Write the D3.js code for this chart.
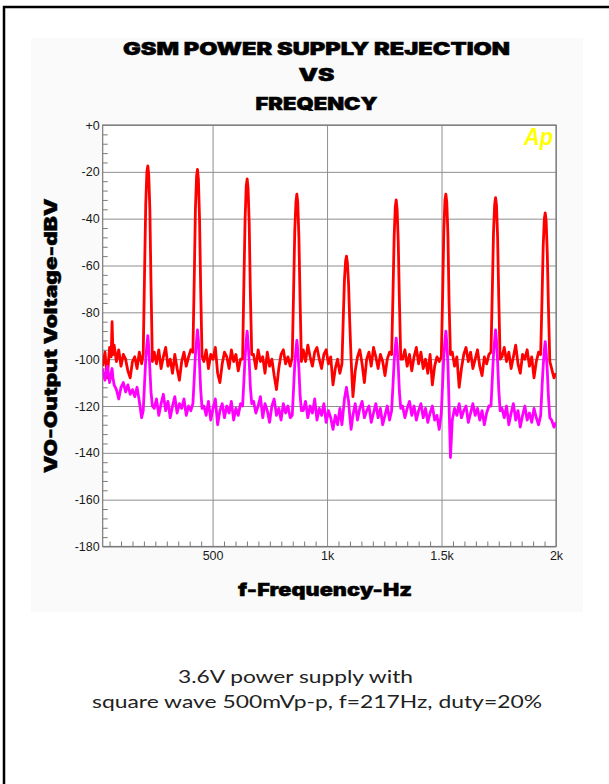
<!DOCTYPE html>
<html>
<head>
<meta charset="utf-8">
<script src="https://cdn.jsdelivr.net/npm/d3@7"></script>
<style>
  html, body { margin: 0; padding: 0; background: #ffffff; overflow: hidden; }
  svg { display: block; }
</style>
</head>
<body>
<script>
// ---------------- DATA ----------------
const titleLines = ["GSM POWER SUPPLY REJECTION", "VS", "FREQENCY"];
const yAxisTitle = "VO-Output Voltage-dBV";
const xAxisTitle = "f-Frequency-Hz";
const captionLines = ["3.6V power supply with", "square wave 500mVp-p, f=217Hz, duty=20%"];

const yMajor = [0, -20, -40, -60, -80, -100, -120, -140, -160, -180];
const yLabels = ["+0", "-20", "-40", "-60", "-80", "-100", "-120", "-140", "-160", "-180"];
const xMajor = [500, 1000, 1500, 2000];
const xLabels = ["500", "1k", "1.5k", "2k"];

// low-frequency segment before first harmonic
const lowFreqHz   = [20, 30, 40, 50, 57, 61, 65, 70, 80, 90, 100, 110, 120, 130, 140, 150, 160, 170, 180, 190];
const lowRed      = [-103, -97, -108, -95, -99, -84, -98, -94, -101, -96, -103, -98, -100, -105, -108, -101, -99, -104, -97, -102];
const lowMagenta  = [-104, -109, -103, -110, -106, -104, -108, -111, -113, -117, -112, -110, -114, -111, -115, -113, -116, -112, -118, -125];

// harmonics of 217 Hz
const harmonicsHz   = [217, 434, 651, 868, 1085, 1302, 1519, 1736, 1953];
const peakOffsetsHz = [-20, -14, -9, -4, 0, 4, 9, 14, 20];
const floorOffsetsHz = [28, 38, 48, 58, 68, 78, 88, 98, 108, 118, 128, 138, 148, 158, 168, 178, 188];

const redPeaks = [
  [-98, -62, -34, -20, -17.5, -21, -36, -68, -101],
  [-97, -65, -36, -22, -19, -23, -40, -70, -99],
  [-100, -66, -40, -26, -23, -27, -42, -72, -98],
  [-99, -70, -45, -33, -29.5, -33, -48, -74, -101],
  [-102, -82, -66, -58, -56, -59, -68, -84, -100],
  [-98, -72, -48, -35, -32, -36, -50, -75, -100],
  [-99, -72, -45, -32, -29.5, -33, -47, -76, -98],
  [-97, -70, -46, -34, -31, -34, -48, -74, -100],
  [-98, -74, -52, -40, -37.5, -41, -55, -78, -101]
];
const magentaPeaks = [
  [-122, -110, -100, -94, -90, -95, -104, -114, -120],
  [-119, -108, -98, -92, -87.5, -92, -102, -113, -121],
  [-120, -109, -99, -92, -88, -93, -101, -112, -119],
  [-124, -112, -102, -96, -92, -96, -104, -115, -122],
  [-128, -122, -117, -114, -112, -115, -118, -124, -130],
  [-122, -111, -101, -95, -91, -95, -103, -114, -121],
  [-123, -110, -99, -92, -88, -93, -102, -120, -142],
  [-120, -108, -98, -92, -87.5, -92, -101, -113, -122],
  [-124, -112, -103, -96, -92.5, -97, -105, -116, -125]
];
const redFloors = [
  [-97, -102, -96, -104, -99, -95, -103, -100, -106, -98, -104, -109, -101, -97, -103, -99, -96],
  [-101, -96, -104, -98, -100, -95, -106, -110, -102, -97, -99, -104, -96, -101, -98, -105, -100],
  [-98, -104, -96, -101, -99, -106, -97, -103, -100, -107, -113, -104, -98, -96, -102, -99, -103],
  [-96, -101, -94, -99, -103, -97, -95, -100, -104, -98, -96, -102, -99, -111, -104, -100, -106],
  [-116, -105, -99, -96, -102, -110, -100, -97, -103, -95, -99, -104, -98, -101, -107, -100, -97],
  [-100, -96, -103, -98, -105, -99, -95, -102, -97, -104, -100, -106, -98, -111, -103, -99, -101],
  [-97, -103, -99, -112, -104, -98, -95, -101, -97, -104, -100, -96, -103, -107, -99, -102, -98],
  [-99, -95, -101, -97, -104, -99, -94, -102, -106, -98, -100, -96, -103, -99, -108, -101, -97]
];
const magentaFloors = [
  [-121, -117, -124, -119, -115, -122, -118, -125, -120, -116, -123, -119, -121, -117, -124, -120, -122],
  [-120, -124, -118, -126, -121, -117, -128, -122, -119, -125, -120, -123, -118, -126, -121, -124, -119],
  [-118, -123, -120, -116, -125, -119, -122, -127, -120, -117, -124, -121, -126, -119, -123, -120, -125],
  [-122, -118, -125, -120, -123, -117, -126, -121, -124, -119, -127, -122, -125, -130, -124, -128, -121],
  [-124, -119, -126, -121, -118, -125, -122, -120, -127, -123, -119, -125, -121, -128, -124, -120, -126],
  [-120, -125, -121, -118, -124, -120, -126, -122, -119, -125, -121, -127, -123, -120, -126, -124, -130],
  [-126, -121, -124, -119, -125, -122, -120, -127, -123, -119, -124, -121, -126, -122, -128, -123, -120],
  [-121, -125, -120, -128, -123, -119, -126, -122, -129, -124, -120, -126, -123, -127, -121, -125, -128]
];
// tail after last harmonic
const tailFreqHz  = [1981, 1991, 2000];
const tailRed     = [-104, -108, -106];
const tailMagenta = [-126, -129, -127];

// ---------------- BUILD SERIES ----------------
function buildSeries(low, peaks, floors, tail) {
  const pts = lowFreqHz.map((f, i) => ({f, v: low[i]}));
  harmonicsHz.forEach((h, k) => {
    peakOffsetsHz.forEach((o, j) => pts.push({f: h + o, v: peaks[k][j]}));
    if (k < floors.length) floorOffsetsHz.forEach((o, j) => pts.push({f: h + o, v: floors[k][j]}));
  });
  tailFreqHz.forEach((f, i) => pts.push({f, v: tail[i]}));
  return pts;
}
const redSeries = buildSeries(lowRed, redPeaks, redFloors, tailRed);
const magentaSeries = buildSeries(lowMagenta, magentaPeaks, magentaFloors, tailMagenta);

// ---------------- DRAW ----------------
const W = 609, H = 784;
const plot = {left: 102.7, top: 125, right: 556, bottom: 546.5};

const svg = d3.select("body").append("svg").attr("width", W).attr("height", H);

// outer page border (top & left visible)
svg.append("rect").attr("x", 4).attr("y", 7).attr("width", 620).attr("height", 800)
  .attr("fill", "#ffffff").attr("stroke", "#000").attr("stroke-width", 2.5);

// light panel
svg.append("rect").attr("x", 31).attr("y", 38).attr("width", 552).attr("height", 574)
  .attr("fill", "#fafafa");

const x = d3.scaleLinear().domain([20, 2000]).range([plot.left, plot.right]);
const y = d3.scaleLinear().domain([-180, 0]).range([plot.bottom, plot.top]);

// plot background
svg.append("rect").attr("x", plot.left).attr("y", plot.top)
  .attr("width", plot.right - plot.left).attr("height", plot.bottom - plot.top)
  .attr("fill", "#ffffff");

// gridlines
const gridColor = "#8e8e8e";
const gY = svg.append("g").attr("transform", `translate(${plot.left},0)`)
  .call(d3.axisLeft(y).tickValues(yMajor).tickSize(-(plot.right - plot.left)).tickFormat(""));
gY.select(".domain").remove();
gY.selectAll("line").attr("stroke", gridColor).attr("stroke-width", 1);
const gX = svg.append("g").attr("transform", `translate(0,${plot.bottom})`)
  .call(d3.axisBottom(x).tickValues(xMajor).tickSize(-(plot.bottom - plot.top)).tickFormat(""));
gX.select(".domain").remove();
gX.selectAll("line").attr("stroke", gridColor).attr("stroke-width", 1);

// minor ticks
const yMinor = d3.range(-176, 0, 4).filter(v => v % 20 !== 0);
const xMinor = d3.range(50, 2000, 50).filter(v => v % 500 !== 0);
const mY = svg.append("g").attr("transform", `translate(${plot.left},0)`)
  .call(d3.axisLeft(y).tickValues(yMinor).tickSize(-5).tickFormat(""));
mY.select(".domain").remove();
mY.selectAll("line").attr("stroke", "#7a7a7a");
const mX = svg.append("g").attr("transform", `translate(0,${plot.bottom})`)
  .call(d3.axisBottom(x).tickValues(xMinor).tickSize(-5).tickFormat(""));
mX.select(".domain").remove();
mX.selectAll("line").attr("stroke", "#7a7a7a");

// frame
svg.append("rect").attr("x", plot.left).attr("y", plot.top)
  .attr("width", plot.right - plot.left).attr("height", plot.bottom - plot.top)
  .attr("fill", "none").attr("stroke", "#7a7a7a").attr("stroke-width", 1.2);

// tick labels
const aY = svg.append("g").attr("transform", `translate(${plot.left},0)`)
  .call(d3.axisLeft(y).tickValues(yMajor).tickSize(0).tickPadding(3)
    .tickFormat((d, i) => yLabels[i]));
aY.select(".domain").remove();
aY.selectAll("text").attr("font-family", "'Liberation Sans', Arial, sans-serif")
  .attr("font-size", 12.5).attr("fill", "#1a1a1a");
const aX = svg.append("g").attr("transform", `translate(0,${plot.bottom})`)
  .call(d3.axisBottom(x).tickValues(xMajor).tickSize(0).tickPadding(5)
    .tickFormat((d, i) => xLabels[i]));
aX.select(".domain").remove();
aX.selectAll("text").attr("font-family", "'Liberation Sans', Arial, sans-serif")
  .attr("font-size", 12.5).attr("fill", "#1a1a1a");

// clip
svg.append("clipPath").attr("id", "clip").append("rect")
  .attr("x", plot.left).attr("y", plot.top)
  .attr("width", plot.right - plot.left).attr("height", plot.bottom - plot.top);

const line = d3.line().x(d => x(d.f)).y(d => y(d.v));
const series = svg.append("g").attr("clip-path", "url(#clip)");
series.append("path").datum(redSeries).attr("d", line)
  .attr("fill", "none").attr("stroke", "#ff0000").attr("stroke-width", 2.8)
  .attr("stroke-linejoin", "round");
series.append("path").datum(magentaSeries).attr("d", line)
  .attr("fill", "none").attr("stroke", "#ff00ff").attr("stroke-width", 2.8)
  .attr("stroke-linejoin", "round");

// Ap logo
svg.append("text").attr("x", 524).attr("y", 145).text("Ap")
  .attr("font-family", "'Liberation Sans', Arial, sans-serif")
  .attr("font-size", 23).attr("font-weight", "bold").attr("font-style", "italic")
  .attr("fill", "#ffff00").attr("textLength", 29).attr("lengthAdjust", "spacingAndGlyphs");

// titles
const heavy = "Inter, 'DejaVu Sans', sans-serif";
const titleY = [55, 81, 110];
const titleW = [387, 36, 122];
titleLines.forEach((t, i) => {
  svg.append("text").attr("x", 316.5).attr("y", titleY[i]).attr("text-anchor", "middle")
    .attr("font-family", heavy).attr("font-weight", 900).attr("font-size", 17.5)
    .attr("fill", "#000").attr("stroke", "#000").attr("stroke-width", 0.5)
    .attr("textLength", titleW[i]).attr("lengthAdjust", "spacingAndGlyphs").text(t);
});

// axis titles
svg.append("text").attr("transform", `translate(57,${(plot.top + plot.bottom) / 2}) rotate(-90)`)
  .attr("text-anchor", "middle").attr("font-family", heavy).attr("font-weight", 900)
  .attr("font-size", 17.5).attr("fill", "#000").attr("stroke", "#000").attr("stroke-width", 0.4)
  .attr("textLength", 275).attr("lengthAdjust", "spacingAndGlyphs").text(yAxisTitle);
svg.append("text").attr("x", 325).attr("y", 596).attr("text-anchor", "middle")
  .attr("font-family", heavy).attr("font-weight", 900).attr("font-size", 17.5)
  .attr("fill", "#000").attr("stroke", "#000").attr("stroke-width", 0.4)
  .attr("textLength", 174).attr("lengthAdjust", "spacingAndGlyphs").text(xAxisTitle);

// caption
const capX = [295.5, 317];
const capY = [683, 708];
const capW = [235, 450];
captionLines.forEach((t, i) => {
  svg.append("text").attr("x", capX[i]).attr("y", capY[i]).attr("text-anchor", "middle")
    .attr("font-family", "Lato, 'Noto Sans', sans-serif").attr("font-size", 18)
    .attr("fill", "#222").attr("textLength", capW[i]).attr("lengthAdjust", "spacingAndGlyphs").text(t);
});
</script>
</body>
</html>
